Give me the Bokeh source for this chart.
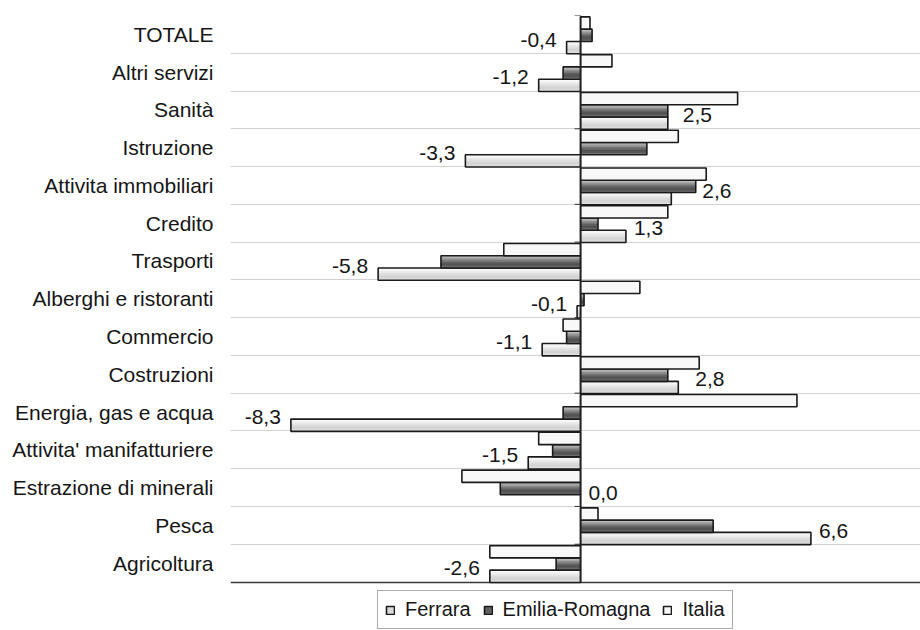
import numpy as np
from bokeh.plotting import figure
from bokeh.models import (ColumnDataSource, Range1d, FixedTicker, LinearAxis,
                          Legend, LegendItem, Grid)
from bokeh.core.properties import value
from bokeh.embed import file_html
from bokeh.resources import INLINE

# ---------------- data (bottom -> top, as in the chart) ----------------
categories = ["Agricoltura", "Pesca", "Estrazione di minerali", "Attivita' manifatturiere",
              "Energia, gas e acqua", "Costruzioni", "Commercio", "Alberghi e ristoranti",
              "Trasporti", "Credito", "Attivita immobiliari", "Istruzione", "Sanità",
              "Altri servizi", "TOTALE"]
ferrara = [-2.6, 6.6, 0.0, -1.5, -8.3, 2.8, -1.1, -0.1, -5.8, 1.3, 2.6, -3.3, 2.5, -1.2, -0.4]
emilia_romagna = [-0.7, 3.8, -2.3, -0.8, -0.5, 2.5, -0.4, 0.1, -4.0, 0.5, 3.3, 1.9, 2.5, -0.5, 0.33]
italia = [-2.6, 0.5, -3.4, -1.2, 6.2, 3.4, -0.5, 1.7, -2.2, 2.5, 3.6, 2.8, 4.5, 0.9, 0.27]
series_names = ["Ferrara", "Emilia-Romagna", "Italia"]

# ---------------- style ----------------
FONT = "Liberation Sans"
TXT = "#161616"
BAR_H = 0.325
SHIFT = -0.024
OUTLINE = "#1a1a1a"
BAND_PX = 37.77          # pixel height of one category band
LEGEND_ROOM_PX = 48.5    # room under the plot area for the legend
grad_ferrara = ["#fcfcfc", "#f4f4f4", "#ebebeb", "#e2e2e2", "#dadada", "#d3d3d3", "#d8d8d8", "#e2e2e2"]
grad_er = ["#c0c0c0", "#a8a8a8", "#8e8e8e", "#757575", "#606060", "#525252", "#5a5a5a", "#777777"]
grad_it = ["#f8f8f8"]
label_nudge = {"Sanità": 7, "Attivita immobiliari": 23, "Costruzioni": 9}

n = len(categories)
idx = np.arange(n, dtype=float)
y_lo = -0.5
y_hi = n - 0.5

p = figure(width=920, height=630,
           x_range=Range1d(-10.03, 9.74),
           y_range=Range1d(y_lo - LEGEND_ROOM_PX / BAND_PX, y_hi),
           output_backend="svg", toolbar_location=None, title=None,
           x_axis_location=None, y_axis_location=None,
           min_border_left=230, min_border_right=0, min_border_top=15, min_border_bottom=0)
p.outline_line_color = None
p.background_fill_color = "white"
p.border_fill_color = "white"
p.xgrid.visible = False
p.ygrid.visible = False

# horizontal grid lines between categories
p.add_layout(Grid(dimension=1, ticker=FixedTicker(ticks=list(np.arange(1, n + 1) - 0.5)),
                  grid_line_color="#d2d2d2", grid_line_width=1))
# bottom line of the plot area
p.add_layout(Grid(dimension=1, ticker=FixedTicker(ticks=[y_lo]),
                  grid_line_color="#3a3a3a", grid_line_width=1.5))

# category axis labels on the left
yax = LinearAxis(ticker=FixedTicker(ticks=list(range(n))),
                 major_label_overrides={i: c for i, c in enumerate(categories)},
                 axis_line_color=None, major_tick_line_color=None, minor_tick_line_color=None,
                 major_tick_out=0, major_tick_in=0,
                 major_label_standoff=17,
                 major_label_text_font=FONT, major_label_text_font_size="21px",
                 major_label_text_color=TXT)
p.add_layout(yax, "left")

# small tick marks on the category axis (at x = 0)
p.ray(x=np.zeros(n + 1), y=np.arange(n + 1) - 0.5, length=6, length_units="screen",
      angle=np.pi, line_color="#333333", line_width=1)


def strips(vals, center_off, colors):
    """nested strips (category-major order): each runs from its own top edge to the bar bottom"""
    K = len(colors)
    sh = BAR_H / K
    ys, hs, rs, cs = [], [], [], []
    for i in range(n):
        bottom = idx[i] + center_off - BAR_H / 2
        for k, c in enumerate(colors):
            top = idx[i] + center_off + BAR_H / 2 - k * sh
            ys.append((top + bottom) / 2)
            hs.append(top - bottom)
            rs.append(float(vals[i]))
            cs.append(c)
    return ColumnDataSource(dict(y=ys, h=hs, right=rs, color=cs))


offsets = [-BAR_H + SHIFT, SHIFT, BAR_H + SHIFT]
grads = [grad_ferrara, grad_er, grad_it]
series_vals = [ferrara, emilia_romagna, italia]
items = []
for name, vals, off, g in zip(series_names, series_vals, offsets, grads):
    src = strips(vals, off, g)
    r_fill = p.hbar(y="y", left=0, right="right", height="h", fill_color="color",
                    line_color=None, source=src)
    r_line = p.hbar(y=idx + off, left=0, right=vals, height=BAR_H, fill_alpha=0,
                    line_color=OUTLINE, line_width=1.6)
    items.append(LegendItem(label=name, renderers=[r_fill, r_line], index=len(g) // 2))

# zero line (category axis), only across the category bands
p.segment(x0=[0], y0=[y_lo], x1=[0], y1=[y_hi], line_color="#222222", line_width=1.6)

# data labels for Ferrara
fv = np.asarray(ferrara, dtype=float)
texts = [f"{v:.1f}".replace(".", ",") for v in fv]
aligns = ["left" if v >= 0 else "right" for v in fv]
xoffs = [(8 + label_nudge.get(c, 0)) if v >= 0 else -10 for c, v in zip(categories, fv)]
lab_src = ColumnDataSource(dict(x=fv, y=idx + offsets[0], text=texts, align=aligns, xoff=xoffs))
p.text(x="x", y="y", text="text", source=lab_src, text_align="align", x_offset="xoff",
       y_offset=-8, text_baseline="middle", text_font=value(FONT), text_font_size="21px",
       text_color=TXT)

legend = Legend(items=items, orientation="horizontal", location=(147, 1),
                border_line_color="#5a5a5a", border_line_width=1,
                background_fill_color="white", background_fill_alpha=1,
                label_text_font=FONT, label_text_font_size="20px", label_text_color=TXT,
                glyph_width=10, glyph_height=10, label_standoff=10, spacing=12,
                padding=7, margin=0)
p.add_layout(legend, "center")

open("out.html", "w").write(file_html(p, INLINE))
